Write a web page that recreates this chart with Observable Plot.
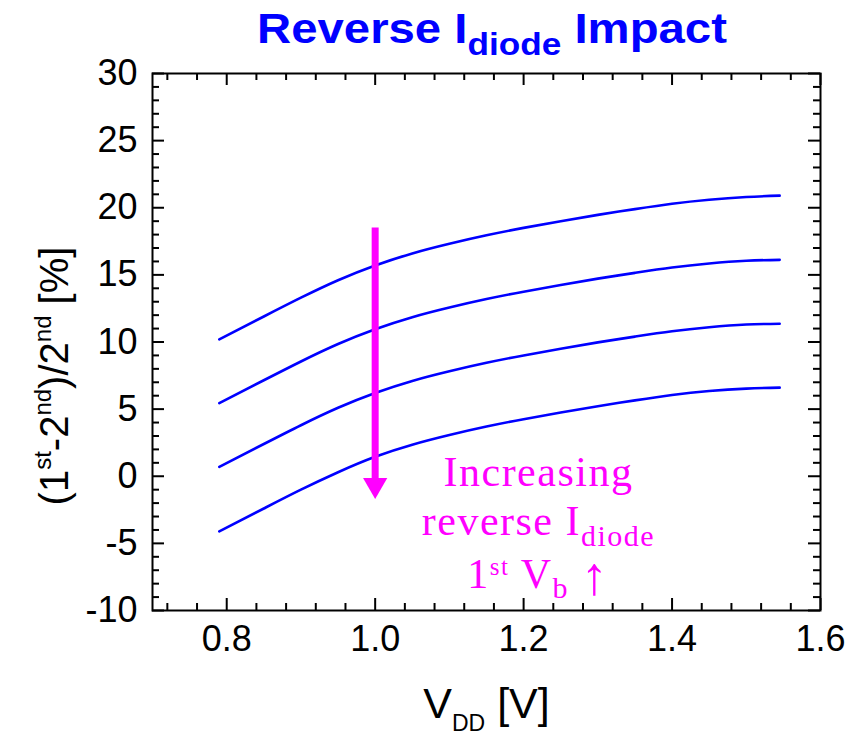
<!DOCTYPE html>
<html><head><meta charset="utf-8">
<script src="https://cdn.jsdelivr.net/npm/d3@7"></script>
<script src="https://cdn.jsdelivr.net/npm/@observablehq/plot@0.6"></script>
<style>
body{margin:0;background:#fff;}
#wrap{position:relative;width:858px;height:736px;overflow:hidden;background:#fff;}
#title{position:absolute;top:3px;left:492px;transform:translateX(-50%) scaleX(1.1);font:bold 43px "Liberation Sans",Arial,sans-serif;color:#0000ff;white-space:nowrap;line-height:50px;}
#title sub{font-size:32px;vertical-align:-12px;line-height:0;}
#chart{position:absolute;top:58px;left:0;}
</style></head><body>
<div id="wrap"><div id="title">Reverse I<sub>diode</sub> Impact</div><div id="chart"></div></div>
<script>
// ---- data ----
const vdd    = [0.79, 0.85, 0.90, 0.95, 1.00, 1.05, 1.10, 1.15, 1.20, 1.25, 1.30, 1.35, 1.40, 1.45, 1.50, 1.545];
const curve1 = [10.2, 11.9, 13.3, 14.6, 15.7, 16.6, 17.32, 17.95, 18.5, 19.0, 19.47, 19.9, 20.3, 20.6, 20.8, 20.9];
const curve2 = [5.45, 7.15, 8.55, 9.85, 10.95, 11.85, 12.57, 13.2, 13.75, 14.25, 14.72, 15.15, 15.55, 15.85, 16.05, 16.12];
const curve3 = [0.7, 2.4, 3.8, 5.1, 6.2, 7.1, 7.82, 8.45, 9.0, 9.5, 9.97, 10.4, 10.8, 11.1, 11.3, 11.36];
const curve4 = [-4.1, -2.4, -1.0, 0.3, 1.45, 2.35, 3.07, 3.7, 4.25, 4.75, 5.22, 5.65, 6.05, 6.35, 6.53, 6.6];
const seriesNames = ["c1", "c2", "c3", "c4"];
const xMajorTicks = [0.8, 1.0, 1.2, 1.4, 1.6];
const xMinorTicks = [0.72, 0.76, 0.84, 0.88, 0.92, 0.96, 1.04, 1.08, 1.12, 1.16, 1.24, 1.28, 1.32, 1.36, 1.44, 1.48, 1.52, 1.56];
const yMajorTicks = [-10, -5, 0, 5, 10, 15, 20, 25, 30];
const yMinorTicks = [-9, -8, -7, -6, -4, -3, -2, -1, 1, 2, 3, 4, 6, 7, 8, 9, 11, 12, 13, 14, 16, 17, 18, 19, 21, 22, 23, 24, 26, 27, 28, 29];
const arrowData = [{x: 1.0, y1: 18.5, y2: -1.7}];
const noteLines = ["Increasing", "reverse Idiode", "1st Vb \u2191"];
const noteY = [-0.7, -4.35, -8.3];
const xLabel = "VDD [V]";
const yLabel = "(1st-2nd)/2nd [%]";

const rows = [];
[curve1, curve2, curve3, curve4].forEach((c, k) => c.forEach((v, i) => rows.push({s: seriesNames[k], x: vdd[i], y: v})));
const notes = noteLines.map((t, i) => ({t, y: noteY[i]}));

const sans = '"Liberation Sans", Arial, sans-serif';
const serif = '"Liberation Serif", "Times New Roman", serif';
const blue = "#0000ff", magenta = "#ff00ff";

const W = 858, H = 678, mL = 152, mR = 38, mT = 15, mB = 126;
const pw = W - mL - mR, ph = H - mT - mB;
const minorLen = 7, majorLen = 12;
const tickStyle = {stroke: "black", strokeWidth: 2};

const plot = Plot.plot({
  width: W, height: H,
  marginLeft: mL, marginRight: mR, marginTop: mT, marginBottom: mB,
  style: {fontFamily: sans, background: "white", color: "black", overflow: "visible"},
  x: {domain: [0.7, 1.6]},
  y: {domain: [-10, 30]},
  marks: [
    Plot.frame({stroke: "black", strokeWidth: 2}),
    // inward ticks on all four sides
    Plot.tickX(xMinorTicks, {x: d => d, insetTop: ph - minorLen, ...tickStyle}),
    Plot.tickX(xMinorTicks, {x: d => d, insetBottom: ph - minorLen, ...tickStyle}),
    Plot.tickX(xMajorTicks, {x: d => d, insetTop: ph - majorLen, ...tickStyle}),
    Plot.tickX(xMajorTicks, {x: d => d, insetBottom: ph - majorLen, ...tickStyle}),
    Plot.tickY(yMinorTicks, {y: d => d, insetRight: pw - minorLen, ...tickStyle}),
    Plot.tickY(yMinorTicks, {y: d => d, insetLeft: pw - minorLen, ...tickStyle}),
    Plot.tickY(yMajorTicks, {y: d => d, insetRight: pw - majorLen, ...tickStyle}),
    Plot.tickY(yMajorTicks, {y: d => d, insetLeft: pw - majorLen, ...tickStyle}),
    Plot.axisX({anchor: "bottom", ticks: xMajorTicks, tickSize: 0, tickPadding: 15, tickFormat: d => d.toFixed(1), label: null, fontSize: 36}),
    Plot.axisY({anchor: "left", ticks: yMajorTicks, tickSize: 0, tickPadding: 15, tickFormat: d => String(d), label: null, fontSize: 36}),
    Plot.line(rows, {x: "x", y: "y", z: "s", stroke: blue, strokeWidth: 2.6, curve: "natural"}),
    Plot.ruleX(arrowData, {x: "x", y1: "y1", y2: "y2", stroke: magenta, strokeWidth: 7, insetBottom: 18}),
    Plot.dot(arrowData, {x: "x", y: "y2", symbol: "triangle", r: 9, fill: magenta, stroke: null, rotate: 180, dy: -14}),
    Plot.text(notes, {x: () => 1.22, y: "y", text: "t", fill: magenta, fontFamily: serif, fontSize: 42, lineAnchor: "bottom", textAnchor: "middle"}),
    Plot.text([xLabel], {text: d => d, frameAnchor: "bottom", dy: 107, lineAnchor: "bottom", textAnchor: "middle", fontSize: 43, fill: "black"}),
    Plot.text([yLabel], {text: d => d, frameAnchor: "left", dx: -85, dy: 34, rotate: -90, lineAnchor: "bottom", textAnchor: "middle", fontSize: 40, fill: "black"})
  ]
});
document.getElementById("chart").appendChild(plot);

// rich text (sub/superscripts) for the text marks
const NS = "http://www.w3.org/2000/svg";
function rich(key, parts, extra) {
  plot.querySelectorAll("text").forEach(t => {
    if (t.textContent !== key) return;
    while (t.firstChild) t.removeChild(t.firstChild);
    for (const [s, shift, size] of parts) {
      const ts = document.createElementNS(NS, "tspan");
      ts.textContent = s;
      if (shift) ts.setAttribute("baseline-shift", shift);
      if (size) ts.setAttribute("font-size", size);
      t.appendChild(ts);
    }
    if (extra) extra(t);
  });
}
rich("Increasing", [["Increasing"]], t => t.setAttribute("letter-spacing", "1.5"));
rich("reverse Idiode", [["reverse I"], ["diode", -11, 30]], t => t.setAttribute("letter-spacing", "1.5"));
rich("1st Vb \u2191", [["1"], ["st", 13, 25], [" V"], ["b", -10, 30], [" "], ["\u2191", -6, 54]], t => t.setAttribute("letter-spacing", "1.5"));
rich(xLabel, [["V"], ["DD", -13, 23], [" [V]"]]);
rich(yLabel, [["(1"], ["st", 17, 24], ["-2"], ["nd", 17, 24], [")/2"], ["nd", 17, 24], [" [%]"]]);
</script>
</body></html>
